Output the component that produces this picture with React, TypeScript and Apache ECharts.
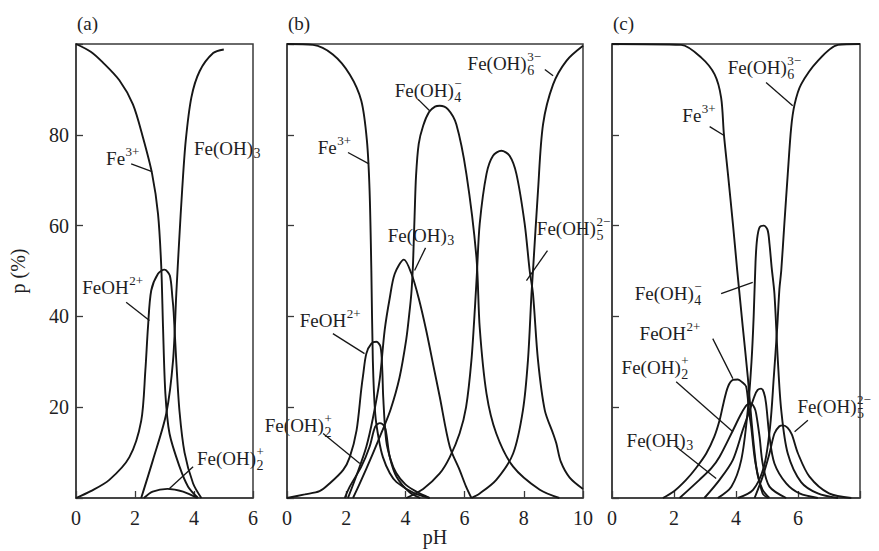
import React, { useEffect, useRef } from "react";
import * as echarts from "echarts";

// ---------- data (pH, p %) ----------
// Panel (a)
const A_FE3 = [[0,100],[0.5,98.3],[0.9,96],[1.47,92],[1.93,86.7],[2.27,79.4],[2.58,71.4],[2.78,62.6],[2.89,51],[2.95,37.6],[3.03,23],[3.17,14.2],[3.51,6.9],[3.8,2.5],[4.14,0]];
const A_FEOH = [[0,0],[0.5,1.5],[1.13,4],[1.81,9],[2.21,17],[2.35,28],[2.44,37.6],[2.55,45.7],[2.78,49.4],[3.0,50.3],[3.18,49],[3.27,44],[3.31,41],[3.4,30],[3.51,19],[3.68,10],[3.97,3.2],[4.25,0]];
const A_FEOH2 = [[2.3,0],[2.6,1.4],[3.1,2.0],[3.63,1.4],[4.1,0]];
const A_FEOH3 = [[2.21,0],[2.61,8.4],[3.06,18.6],[3.29,30.3],[3.4,45],[3.5,57],[3.6,68],[3.72,78.7],[3.91,88.2],[4.19,94],[4.65,98],[5.01,98.8]];

// Panel (b)
const B_FE3 = [[0,100],[0.88,99.8],[1.55,97.7],[2.12,93.3],[2.51,87.5],[2.7,78.7],[2.79,67.7],[2.85,50],[2.9,30.3],[2.98,18.6],[3.1,13],[3.24,9],[3.47,5.5],[3.7,3.5],[4.26,1.2],[4.82,0]];
const B_FEOH = [[0,0],[0.6,0.8],[1.1,1.5],[1.44,3.2],[1.9,6.2],[2.12,9],[2.35,14.9],[2.51,24],[2.57,27],[2.68,31.8],[2.85,34],[3.02,34.4],[3.16,33.3],[3.22,28],[3.25,22.3],[3.35,12.7],[3.5,8.5],[3.69,5.5],[4.0,3.0],[4.37,1.4],[4.82,0]];
const B_FEOH2 = [[1.95,0],[2.12,2.5],[2.51,6.9],[2.79,11.3],[2.98,15.7],[3.14,16.5],[3.3,15.7],[3.36,14],[3.47,9.1],[3.7,4.7],[4.15,1.2],[4.5,0]];
const B_FEOH3 = [[2.06,0],[2.35,5],[2.68,11.3],[2.9,17.5],[3.13,26],[3.3,37],[3.47,44],[3.64,49.4],[3.95,52.5],[4.2,49.5],[4.45,44],[4.7,37],[4.95,29],[5.16,22.3],[5.5,11.3],[5.83,6.2],[6.05,2.5],[6.23,0]];
const B_FEOH4 = [[2.23,0],[2.46,3.2],[2.9,9.8],[3.2,14.5],[3.5,19.5],[3.8,26.5],[4.03,35],[4.13,40.5],[4.2,45],[4.25,50.5],[4.28,56],[4.31,62],[4.36,71],[4.45,78],[4.6,82],[4.8,85],[5.0,86.2],[5.16,86.4],[5.44,85.6],[5.72,82.3],[6.06,71.4],[6.4,53],[6.51,37.6],[6.74,23],[7.07,14.2],[7.64,6.9],[8.54,1.8],[9.2,0]];
const B_FEOH5 = [[4.03,0],[4.6,2],[5.16,5.4],[5.5,9],[5.83,14.2],[6.05,20],[6.23,30.3],[6.35,42],[6.42,50],[6.51,60.4],[6.74,71.4],[6.96,75.4],[7.24,76.5],[7.52,75.4],[7.75,71.4],[8.03,60.4],[8.2,50],[8.31,45],[8.48,30.3],[8.71,19.3],[9.0,14],[9.1,12],[9.25,8],[9.55,4.5],[10,2]];
const B_FEOH6 = [[6.23,0],[6.51,1],[7.07,4],[7.64,9.8],[7.97,19.3],[8.14,30.3],[8.26,45],[8.31,50],[8.48,67.7],[8.65,82.3],[8.99,91.1],[9.44,96.3],[10,99.6]];

// Panel (c)
const C_FE3 = [[0,100],[2.23,99.8],[2.88,97],[3.31,93.3],[3.52,88.2],[3.61,80.1],[3.74,71.4],[3.9,60.4],[4.04,50.1],[4.22,37.6],[4.38,26.7],[4.5,17],[4.6,10],[4.7,5],[4.86,1.8],[5.08,0]];
const C_FEOH = [[1.64,0],[2.0,1.5],[2.39,4],[2.7,6.5],[3.04,9.8],[3.3,13.5],[3.47,17.1],[3.6,21],[3.74,24.5],[3.9,26],[4.06,26.1],[4.2,25.5],[4.33,24.5],[4.42,19],[4.49,15.7],[4.58,10],[4.65,6.9],[4.86,1],[5.03,0]];
const C_FEOH2 = [[2.18,0],[2.82,4],[3.2,6.5],[3.47,9.1],[3.88,14.6],[4.17,18.6],[4.35,20.5],[4.49,20.8],[4.6,19.8],[4.65,18.6],[4.76,13.5],[4.86,7.6],[5.08,2.5],[5.62,0]];
const C_FEOH3 = [[2.98,0],[3.47,4],[3.9,8.4],[4.22,15],[4.44,19.3],[4.6,22.5],[4.7,23.8],[4.81,24.1],[4.9,23.2],[4.97,20.8],[5.08,13.5],[5.24,7.6],[5.62,3.2],[6.05,1],[6.64,0]];
const C_FEOH4 = [[3.41,0],[3.85,2.5],[4.17,8.4],[4.38,19.3],[4.5,30],[4.57,40],[4.63,52],[4.68,57],[4.76,59.6],[4.9,60],[5.02,59],[5.08,56],[5.15,50.8],[5.24,45],[5.35,30.3],[5.46,19.3],[5.67,9.8],[6.1,3.5],[6.64,1],[7.29,0]];
const C_FEOH5 = [[4.6,0],[4.86,4.7],[5.08,9.8],[5.24,14.2],[5.4,15.8],[5.52,16],[5.66,15.5],[5.8,14],[6.0,9.8],[6.37,4.7],[7.0,1],[7.72,0]];
const C_FEOH6 = [[4.06,0],[4.55,1.8],[4.9,6.9],[5.1,15.7],[5.22,26.7],[5.33,37.6],[5.4,46],[5.46,50.1],[5.56,60.4],[5.67,71.4],[5.78,81.6],[5.89,86.7],[6.1,91.1],[6.64,96.3],[7.29,99.8],[8,100]];

const PANEL_SERIES = [
  [A_FE3, A_FEOH, A_FEOH2, A_FEOH3],
  [B_FE3, B_FEOH, B_FEOH2, B_FEOH3, B_FEOH4, B_FEOH5, B_FEOH6],
  [C_FE3, C_FEOH, C_FEOH2, C_FEOH3, C_FEOH4, C_FEOH5, C_FEOH6],
];
const PANEL_XMAX = [6, 10, 8];
const PANEL_NAMES = ["(a)", "(b)", "(c)"];
const Y_TICKS = [0, 20, 40, 60, 80, 100];
const X_NAME = "pH";

// labels: panel, left-edge pH, centre p, base text, sup, sub, pointer [[pH,p],[pH,p]]
const LABELS = [
  { g: 0, x: 1.02, y: 74.7, base: "Fe", sup: "3+", ptr: [[1.87, 73.6], [2.58, 71.9]] },
  { g: 0, x: 4.0, y: 77, base: "Fe(OH)", sub: "3" },
  { g: 0, x: 0.21, y: 46.4, base: "FeOH", sup: "2+", ptr: [[1.7, 43.1], [2.49, 39.1]] },
  { g: 0, x: 4.1, y: 8.7, base: "Fe(OH)", sup: "+", sub: "2", ptr: [[3.97, 6.9], [3.17, 2.1]] },
  { g: 1, x: 1.04, y: 77.2, base: "Fe", sup: "3+", ptr: [[2.06, 76.1], [2.77, 73.6]] },
  { g: 1, x: 3.64, y: 89.7, base: "Fe(OH)", sup: "\u2212", sub: "4", ptr: [[4.43, 87.8], [4.82, 85.3]] },
  { g: 1, x: 6.1, y: 95.6, base: "Fe(OH)", sup: "3\u2212", sub: "6", ptr: [[8.71, 94.4], [8.99, 93]] },
  { g: 1, x: 3.4, y: 57.8, base: "Fe(OH)", sub: "3", ptr: [[4.68, 55.1], [4.31, 50.1]] },
  { g: 1, x: 0.43, y: 39.1, base: "FeOH", sup: "2+", ptr: [[1.55, 36.2], [2.62, 31.8]] },
  { g: 1, x: -0.75, y: 16, base: "Fe(OH)", sup: "+", sub: "2", ptr: [[1.22, 14.2], [2.46, 7.6]] },
  { g: 1, x: 8.44, y: 59.3, base: "Fe(OH)", sup: "2\u2212", sub: "5", ptr: [[8.8, 54.5], [8.09, 47.9]] },
  { g: 2, x: 2.27, y: 84.2, base: "Fe", sup: "3+", ptr: [[3.15, 81.8], [3.63, 79.8]] },
  { g: 2, x: 3.73, y: 94.8, base: "Fe(OH)", sup: "3\u2212", sub: "6", ptr: [[4.97, 91.5], [5.83, 86.4]] },
  { g: 2, x: 0.73, y: 45, base: "Fe(OH)", sup: "\u2212", sub: "4", ptr: [[3.52, 45], [4.54, 47.5]] },
  { g: 2, x: 0.89, y: 36.3, base: "FeOH", sup: "2+", ptr: [[3.25, 35.1], [3.9, 26.3]] },
  { g: 2, x: 0.31, y: 28.8, base: "Fe(OH)", sup: "+", sub: "2", ptr: [[2.07, 25.6], [3.9, 14.6]] },
  { g: 2, x: 0.47, y: 12.7, base: "Fe(OH)", sub: "3", ptr: [[2.07, 11.3], [3.36, 4.3]] },
  { g: 2, x: 5.98, y: 20.1, base: "Fe(OH)", sup: "2\u2212", sub: "5", ptr: [[6.32, 17.1], [5.89, 14.6]] },
];

const FONT_FAMILY = '"Liberation Serif", "DejaVu Serif", serif';
const TEXT = "#1e1e24";
const LINE = "#161616";
const AXIS = "#3a3a3a";

const GRIDS = [
  { left: 76, top: 44, width: 177, height: 454 },
  { left: 287, top: 44, width: 296, height: 454 },
  { left: 612, top: 44, width: 248, height: 454 },
];

export default function App() {
  const ref = useRef<HTMLDivElement>(null);
  useEffect(() => {
    document.body.style.margin = "0";
    const el = ref.current!;
    const chart = echarts.init(el, null, { renderer: "svg" });

    const grids = GRIDS.map((g) => ({
      ...g,
      show: true,
      borderColor: AXIS,
      borderWidth: 1.5,
      backgroundColor: "transparent",
      containLabel: false,
      outerBoundsMode: "none",
    }));

    const xAxes = PANEL_XMAX.map((mx, i) => ({
      type: "value",
      gridIndex: i,
      min: 0,
      max: mx,
      interval: 2,
      axisLine: { show: true, lineStyle: { color: AXIS, width: 1.5 } },
      axisTick: { show: true, inside: true, length: 7, lineStyle: { color: AXIS, width: 1.3 } },
      axisLabel: {
        show: true,
        margin: 10,
        fontFamily: FONT_FAMILY,
        fontSize: 20,
        color: TEXT,
        formatter: (v: number) => (i === 2 && v === 8 ? "" : String(v)),
      },
      splitLine: { show: false },
    }));

    const yAxes = [0, 1, 2].map((i) => ({
      type: "value",
      gridIndex: i,
      min: Y_TICKS[0],
      max: Y_TICKS[Y_TICKS.length - 1],
      interval: 20,
      name: i === 0 ? "p (%)" : "",
      nameLocation: "middle",
      nameGap: 48,
      nameRotate: 90,
      nameTextStyle: { fontFamily: FONT_FAMILY, fontSize: 20, color: TEXT },
      axisLine: { show: true, lineStyle: { color: AXIS, width: 1.5 } },
      axisTick: { show: true, inside: true, length: 7, lineStyle: { color: AXIS, width: 1.3 } },
      axisLabel: {
        show: i === 0,
        margin: 7,
        fontFamily: FONT_FAMILY,
        fontSize: 20,
        color: TEXT,
        formatter: (v: number) => (v === 0 || v === 100 ? "" : String(v)),
      },
      splitLine: { show: false },
    }));

    const series: any[] = [];
    PANEL_SERIES.forEach((list, gi) => {
      list.forEach((d) => {
        series.push({
          type: "line",
          xAxisIndex: gi,
          yAxisIndex: gi,
          data: d,
          showSymbol: false,
          smooth: 0.3,
          lineStyle: { color: LINE, width: 1.9 },
          silent: true,
        });
      });
    });

    chart.setOption({
      animation: false,
      grid: grids,
      xAxis: xAxes,
      yAxis: yAxes,
      series,
    });

    const ctx = document.createElement("canvas").getContext("2d")!;
    const measure = (t: string, size: number) => {
      ctx.font = `${size}px ${FONT_FAMILY}`;
      return ctx.measureText(t).width;
    };
    const toPx = (g: number, pt: number[]) =>
      chart.convertToPixel({ gridIndex: g } as any, pt) as number[];

    const BASE = 19;
    const SMALL = 13;
    const graphics: any[] = [];
    LABELS.forEach((L: any) => {
      const [x, y] = toPx(L.g, [L.x, L.y]);
      graphics.push({
        type: "text",
        x,
        y,
        silent: true,
        style: { text: L.base, fill: TEXT, font: `${BASE}px ${FONT_FAMILY}`, align: "left", verticalAlign: "middle" },
      });
      const w = measure(L.base, BASE);
      if (L.sup) {
        graphics.push({
          type: "text",
          x: x + w + 0.5,
          y: y - 7,
          silent: true,
          style: { text: L.sup, fill: TEXT, font: `${SMALL}px ${FONT_FAMILY}`, align: "left", verticalAlign: "middle" },
        });
      }
      if (L.sub) {
        graphics.push({
          type: "text",
          x: x + w + 0.5,
          y: y + (L.sup ? 7 : 5),
          silent: true,
          style: { text: L.sub, fill: TEXT, font: `${SMALL + 1}px ${FONT_FAMILY}`, align: "left", verticalAlign: "middle" },
        });
      }
      if (L.ptr) {
        const p1 = toPx(L.g, L.ptr[0]);
        const p2 = toPx(L.g, L.ptr[1]);
        graphics.push({
          type: "line",
          silent: true,
          shape: { x1: p1[0], y1: p1[1], x2: p2[0], y2: p2[1] },
          style: { stroke: LINE, lineWidth: 1.3 },
        });
      }
    });
    PANEL_NAMES.forEach((nm, gi) => {
      const [x, y] = toPx(gi, [0, 104.6]);
      graphics.push({
        type: "text",
        x: x + 1,
        y,
        silent: true,
        style: { text: nm, fill: TEXT, font: `${BASE}px ${FONT_FAMILY}`, align: "left", verticalAlign: "middle" },
      });
    });
    // x-axis name, centred under panel (b)
    const [nx, ny] = toPx(1, [PANEL_XMAX[1] / 2, 0]);
    graphics.push({
      type: "text",
      x: nx,
      y: ny + 39,
      silent: true,
      style: { text: X_NAME, fill: TEXT, font: `20px ${FONT_FAMILY}`, align: "center", verticalAlign: "middle" },
    });

    chart.setOption({ graphic: graphics });

    return () => chart.dispose();
  }, []);
  return <div ref={ref} style={{ width: 879, height: 551, background: "#fff" }} />;
}
